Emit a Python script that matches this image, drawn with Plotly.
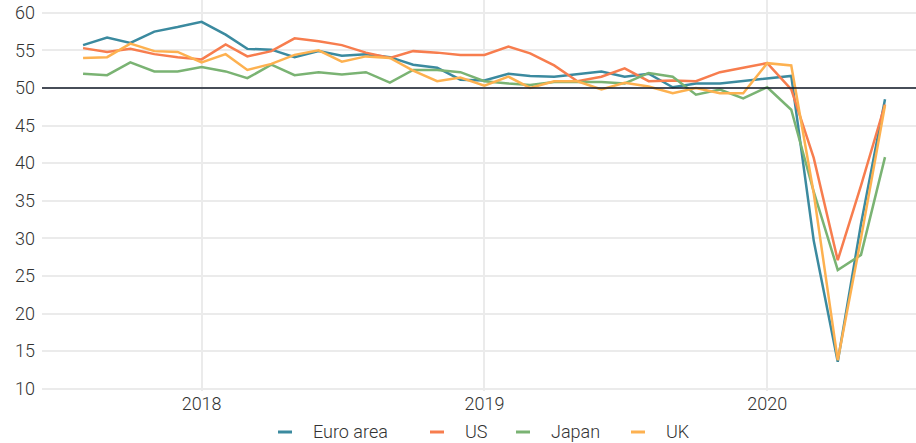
import plotly.graph_objects as go
import pandas as pd

months = pd.date_range("2017-08-01", "2020-06-01", freq="MS")

euro_area = [55.7, 56.7, 56.0, 57.5, 58.1,
             58.8, 57.1, 55.2, 55.1, 54.1, 54.9, 54.3, 54.5, 54.1, 53.1, 52.7, 51.1,
             51.0, 51.9, 51.6, 51.5, 51.8, 52.2, 51.5, 51.9, 50.1, 50.6, 50.6, 50.9,
             51.3, 51.6, 29.7, 13.6, 31.9, 48.5]
us = [55.3, 54.8, 55.2, 54.5, 54.1,
      53.8, 55.8, 54.2, 54.9, 56.6, 56.2, 55.7, 54.7, 54.0, 54.9, 54.7, 54.4,
      54.4, 55.5, 54.6, 53.0, 50.9, 51.5, 52.6, 50.9, 51.0, 50.9, 52.1, 52.7,
      53.3, 49.8, 40.7, 27.1, 37.0, 47.8]
japan = [51.9, 51.7, 53.4, 52.2, 52.2,
         52.8, 52.2, 51.3, 53.1, 51.7, 52.1, 51.8, 52.1, 50.7, 52.4, 52.4, 52.1,
         50.9, 50.6, 50.4, 50.8, 50.8, 50.8, 50.6, 52.0, 51.5, 49.1, 49.8, 48.6,
         50.1, 47.1, 36.2, 25.8, 27.8, 40.8]
uk = [54.0, 54.1, 55.9, 54.9, 54.8,
      53.4, 54.5, 52.4, 53.2, 54.4, 55.0, 53.5, 54.2, 54.0, 52.3, 50.9, 51.4,
      50.3, 51.5, 50.0, 50.9, 50.9, 49.8, 50.7, 50.2, 49.3, 50.0, 49.3, 49.3,
      53.3, 53.0, 36.0, 13.8, 30.0, 47.7]

series_names = ["Euro area", "US", "Japan", "UK"]
series_values = [euro_area, us, japan, uk]
colors = ["#3b8a9f", "#f77d4e", "#7ab373", "#fdb150"]

year_ticks = ["2018-01-01", "2019-01-01", "2020-01-01"]
year_labels = ["2018", "2019", "2020"]
y_ticks = [10, 15, 20, 25, 30, 35, 40, 45, 50, 55, 60]

# legend layout (pixel positions of key samples in the 916x443 canvas)
W, H = 916, 443
ML, MB = 42, 52
plot_w, plot_h = W - ML, H - MB
legend_sample_px = [278, 430, 516, 631]
legend_y_px = 432

fig = go.Figure()
for name, vals, c in zip(series_names, series_values, colors):
    fig.add_trace(go.Scatter(x=months, y=vals, mode="lines", name=name,
                             line=dict(color=c, width=2.5), showlegend=False))

fig.add_hline(y=50, line=dict(color="#111827", width=1.3), layer="above")

font = dict(family="Roboto Light, Roboto", size=18, color="#333333", weight=300)

# manual legend: short line keys + labels
ly = -(legend_y_px - plot_h) / plot_h
for name, c, px in zip(series_names, colors, legend_sample_px):
    x0 = (px - ML) / plot_w
    x1 = (px + 14 - ML) / plot_w
    fig.add_shape(type="line", xref="paper", yref="paper", x0=x0, x1=x1,
                  y0=ly, y1=ly, line=dict(color=c, width=3))
    fig.add_annotation(xref="paper", yref="paper", x=(px + 33 - ML) / plot_w,
                       y=ly, text=name, showarrow=False, xanchor="left",
                       yanchor="middle", font=font)

fig.update_layout(
    width=W, height=H,
    margin=dict(l=ML, r=0, t=0, b=MB, autoexpand=False),
    paper_bgcolor="white", plot_bgcolor="white",
    font=font, showlegend=False,
    xaxis=dict(range=["2017-06-09", "2020-07-11"], tickvals=year_ticks,
               ticktext=year_labels, showgrid=True, gridcolor="#ebebeb",
               gridwidth=1.5, zeroline=False, showline=False, ticks="",
               tickfont=font, automargin=False),
    yaxis=dict(range=[9.7, 61.7], tickvals=y_ticks, showgrid=True,
               gridcolor="#ebebeb", gridwidth=1.5, zeroline=False,
               showline=False, ticks="", tickfont=font, ticklabelstandoff=6,
               automargin=False),
)

fig.write_html("out.html", config={"displayModeBar": False},
               post_script="document.body.style.margin='0';document.body.style.overflow='hidden';")
